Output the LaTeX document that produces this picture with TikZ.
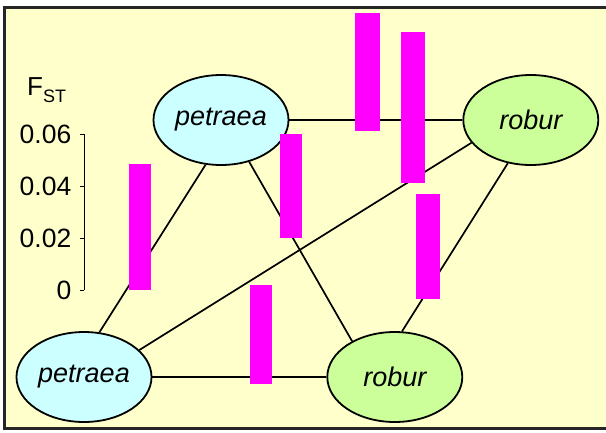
\documentclass[tikz,border=0pt]{standalone}
\usepackage{fontspec}
\setmainfont{Liberation Sans}
\usetikzlibrary{positioning,shapes.geometric}
\definecolor{paleyellow}{HTML}{FFFFCC}
\definecolor{petraeacyan}{HTML}{CCFFFF}
\definecolor{roburgreen}{HTML}{CCFF99}
\definecolor{fstpink}{HTML}{FF00FF}

\begin{document}
\begin{tikzpicture}[x=1pt,y=-1pt,
   every node/.style={font=\fontsize{26.5}{30}\selectfont},
   pop/.style={ellipse,draw,line width=1.8pt,minimum width=135pt,minimum height=90pt,
     inner sep=0pt,font=\fontsize{27}{30}\selectfont\itshape},
   fstbar/.style={fill=fstpink},
   tick/.style={anchor=base east,inner sep=0pt}]
  \useasboundingbox (0,0) rectangle (606,432);
  \clip (0,0) rectangle (606,432);
  \draw[fill=paleyellow,draw=black!85,line width=2.5pt] (4.5,7.5) rectangle (620,428.5);
  \node[pop,fill=petraeacyan] (p1) at (221,120) {petraea};
  \node[pop,fill=roburgreen] (r1) [right=173pt of p1] {robur};
  \node[pop,fill=petraeacyan] (p2) at (84,377) {petraea};
  \node[pop,fill=roburgreen] (r2) [right=174pt of p2] {robur};
  \begin{scope}[line width=1.7pt]
    \draw (p1) -- (r1);
    \draw (p2) -- (r2);
    \draw (p1.-109) -- (p2.71);
    \draw (p1.-56) -- (r2.140);
    \draw (r1.201) -- (p2.26);
    \draw (r1.242) -- (r2.81);
  \end{scope}
  \draw[line width=1pt] (84.3,134) -- (84.3,290);
  \foreach \v/\lab in {0/0,1/0.02,2/0.04,3/0.06} {
    \draw[line width=1pt] (79.5,290-51.93*\v) -- (84.3,290-51.93*\v);
    \node[tick] (t\v) at (71.5,299.5-51.93*\v) {\lab};
  }
  \node[anchor=base west,inner sep=0pt,font=\fontsize{26}{30}\selectfont] (fst) at (27,95)
    {F\raisebox{-7.7pt}{\fontsize{18}{20}\selectfont ST}};
  \foreach \xa/\ya/\xb/\yb in {129/164/151/290, 355/13/380/131, 401/32/425/183,
      280/134/302/238, 416/194/440/299, 250/285/272/384}
    \fill[fstbar] (\xa,\ya) rectangle (\xb,\yb);
\end{tikzpicture}
\end{document}
